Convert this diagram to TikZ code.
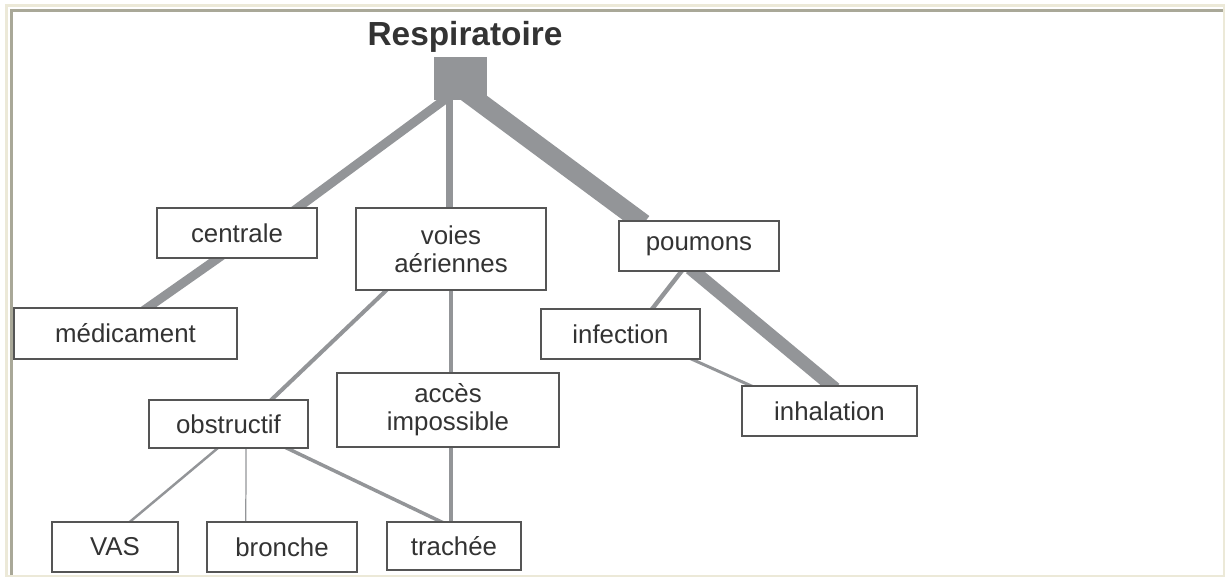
\documentclass[tikz,border=0pt]{standalone}
\usepackage{fontspec}
\setmainfont{Liberation Sans}
\usetikzlibrary{calc,backgrounds}

\definecolor{linkgray}{HTML}{939598}
\definecolor{boxline}{HTML}{555555}
\definecolor{txtgray}{HTML}{333333}
\definecolor{framebeige}{HTML}{ECE9D8}
\definecolor{framegray}{HTML}{A9A898}

\begin{document}
\begin{tikzpicture}[x=0.02cm, y=-0.02cm,
    box/.style={draw=boxline, line width=0.6pt, fill=white, text=txtgray, inner sep=0pt, align=center, font=\fontsize{14.7}{16}\selectfont},
    link/.style={draw=linkgray, line width=#1, shorten <=-3pt, shorten >=-3pt}]
    \useasboundingbox (0,0) rectangle (1227,579);

    \node[text=txtgray, font=\bfseries\fontsize{19}{22}\selectfont, anchor=base] (root) at (465,45) {Respiratoire};
    \node[fill=linkgray, minimum width=1.06cm, minimum height=0.86cm, inner sep=0pt] (trunk) at (460.5,78.5) {};
    \coordinate (forkL) at ($(trunk.south)+(-10,-5)$); \coordinate (forkM) at ($(trunk.south)+(-11,-5)$); \coordinate (forkR) at ($(trunk.south)+(10,-5)$);

    \node[box, minimum width=3.2cm, minimum height=1cm] (centrale) at (237,233) {centrale};
    \node[box, minimum width=4.46cm, minimum height=1.02cm] (medicament) at (125.5,333.5) {médicament};
    \node[box, minimum width=3.8cm, minimum height=1.64cm] (voies) at (451,249) {voies\\aériennes};
    \node[box, minimum width=3.2cm, minimum height=1cm] (poumons) at (699,246) {poumons};
    \node[box, minimum width=3.18cm, minimum height=1cm] (infection) at (620.5,334) {infection};
    \node[box, minimum width=3.5cm, minimum height=1cm] (inhalation) at (829.5,411) {inhalation};
    \node[box, minimum width=4.44cm, minimum height=1.48cm] (acces) at (448,410) {accès\\impossible};
    \node[box, minimum width=3.18cm, minimum height=0.96cm] (obstructif) at (228.5,424) {obstructif};
    \node[box, minimum width=2.52cm, minimum height=1cm] (VAS) at (115,547) {VAS};
    \node[box, minimum width=3cm, minimum height=1cm] (bronche) at (282,547) {bronche};
    \node[box, minimum width=2.68cm, minimum height=0.96cm] (trachee) at (454,546) {trachée};

    \begin{scope}[on background layer]
        \draw[framebeige, line width=1.3pt] (6.5,5.5) rectangle (1224,576);
        \draw[framegray, line width=1.2pt] (11.5,575) -- (11.5,10.5) -- (1223,10.5);

        \draw[link=5.1pt] (forkL) -- ($(centrale.north west)!.88!(centrale.north east)$);
        \draw[link=4pt] (forkM) -- (forkM |- voies.north);
        \draw[link=10.8pt] (forkR) -- ($(poumons.north west)!.13!(poumons.north east)$);
        \draw[link=5.1pt] ($(centrale.south west)!.38!(centrale.south east)$) -- ($(medicament.north west)!.6!(medicament.north east)$);
        \draw[link=2.3pt] ($(voies.south west)!.16!(voies.south east)$) -- ($(obstructif.north west)!.77!(obstructif.north east)$);
        \draw[link=2.8pt] (voies.south) -- (voies.south |- acces.north);
        \draw[link=2.3pt] ($(acces.south)+(3,0)$) coordinate (accesfoot) -- (accesfoot |- trachee.north);
        \draw[link=1.4pt] ($(obstructif.south west)!.43!(obstructif.south east)$) -- ($(VAS.north west)!.62!(VAS.north east)$);
        \draw[link=0.7pt] ($(obstructif.south west)!.61!(obstructif.south east)$) -- ($(bronche.north west)!.26!(bronche.north east)$);
        \draw[link=2pt] ($(obstructif.south west)!.87!(obstructif.south east)$) -- ($(trachee.north west)!.4!(trachee.north east)$);
        \draw[link=2.5pt] ($(poumons.south west)!.39!(poumons.south east)$) -- ($(infection.north west)!.7!(infection.north east)$);
        \draw[link=7.4pt] ($(poumons.south west)!.47!(poumons.south east)$) -- ($(inhalation.north west)!.51!(inhalation.north east)$);
        \draw[link=1.7pt] ($(infection.south west)!.95!(infection.south east)$) -- ($(inhalation.north west)!.05!(inhalation.north east)$);
    \end{scope}
\end{tikzpicture}
\end{document}
